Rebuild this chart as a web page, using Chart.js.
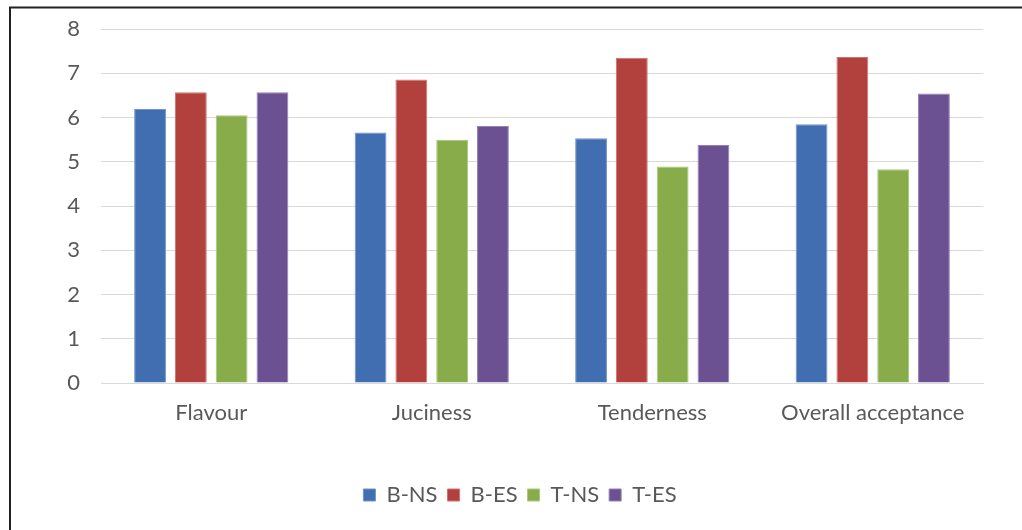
<!DOCTYPE html>
<html>
<head>
<meta charset="utf-8">
<script src="https://cdn.jsdelivr.net/npm/chart.js@4/dist/chart.umd.min.js"></script>
<style>
  html, body { margin: 0; padding: 0; background: #ffffff; }
  #wrap { position: relative; width: 1022px; height: 530px; }
</style>
</head>
<body>
<div id="wrap"><canvas id="c" width="1022" height="530"></canvas></div>
<script>
const categories = ["Flavour", "Juciness", "Tenderness", "Overall acceptance"];
const seriesNames = ["B-NS", "B-ES", "T-NS", "T-ES"];
const bNS = [6.19, 5.66, 5.53, 5.85];
const bES = [6.57, 6.86, 7.35, 7.37];
const tNS = [6.05, 5.50, 4.89, 4.83];
const tES = [6.57, 5.81, 5.38, 6.54];
const yTicks = [0, 1, 2, 3, 4, 5, 6, 7, 8];

const fills = ["#416db1", "#b2413d", "#89ac4a", "#6b5191"];
const edges = ["#6f93cc", "#cf7370", "#aac97a", "#9680b6"];
const txt = "#595959";
const font = "Lato, 'Open Sans', sans-serif";

const frame = {
  id: "frame",
  afterDraw(chart) {
    const ctx = chart.ctx;
    ctx.save();
    ctx.strokeStyle = "#222222";
    ctx.lineWidth = 2;
    ctx.beginPath();
    ctx.moveTo(10, 530);
    ctx.lineTo(10, 7.5);
    ctx.lineTo(1022, 7.5);
    ctx.stroke();
    ctx.restore();
  }
};

const values = [bNS, bES, tNS, tES];
new Chart(document.getElementById("c"), {
  type: "bar",
  data: {
    labels: categories,
    datasets: seriesNames.map((n, i) => ({
      label: n,
      data: values[i],
      backgroundColor: fills[i],
      borderColor: edges[i],
      borderWidth: 1,
      categoryPercentage: 0.74,
      barPercentage: 0.78
    }))
  },
  options: {
    responsive: false,
    animation: false,
    layout: { autoPadding: false, padding: { top: 29, right: 0, bottom: 14, left: 18 } },
    plugins: {
      tooltip: { enabled: false },
      legend: {
        position: "bottom",
        labels: {
          color: txt,
          font: { family: font, size: 22 },
          boxWidth: 12,
          boxHeight: 12,
          padding: 10
        }
      }
    },
    scales: {
      x: {
        grid: { display: false, drawTicks: false },
        border: { display: true, color: "#d9d9d9", width: 1 },
        ticks: { color: txt, font: { family: font, size: 22 }, padding: 17, maxRotation: 0 },
        afterFit(s) { s.height = 91; s.paddingLeft = 0; s.paddingRight = 0; }
      },
      y: {
        min: 0,
        max: 8,
        afterBuildTicks(s) { s.ticks = yTicks.map(v => ({ value: v })); },
        grid: { color: "#d9d9d9", lineWidth: 1, drawTicks: false },
        border: { display: false },
        ticks: { color: txt, font: { family: font, size: 22 }, padding: 21 },
        afterFit(s) { s.width = 83; s.paddingTop = 0; s.paddingBottom = 0; }
      },
      yRight: {
        position: "right",
        min: 0,
        max: 8,
        grid: { display: false, drawTicks: false },
        border: { display: false },
        ticks: { display: false },
        afterFit(s) { s.width = 39; s.paddingTop = 0; s.paddingBottom = 0; }
      }
    }
  },
  plugins: [frame]
});
</script>
</body>
</html>
